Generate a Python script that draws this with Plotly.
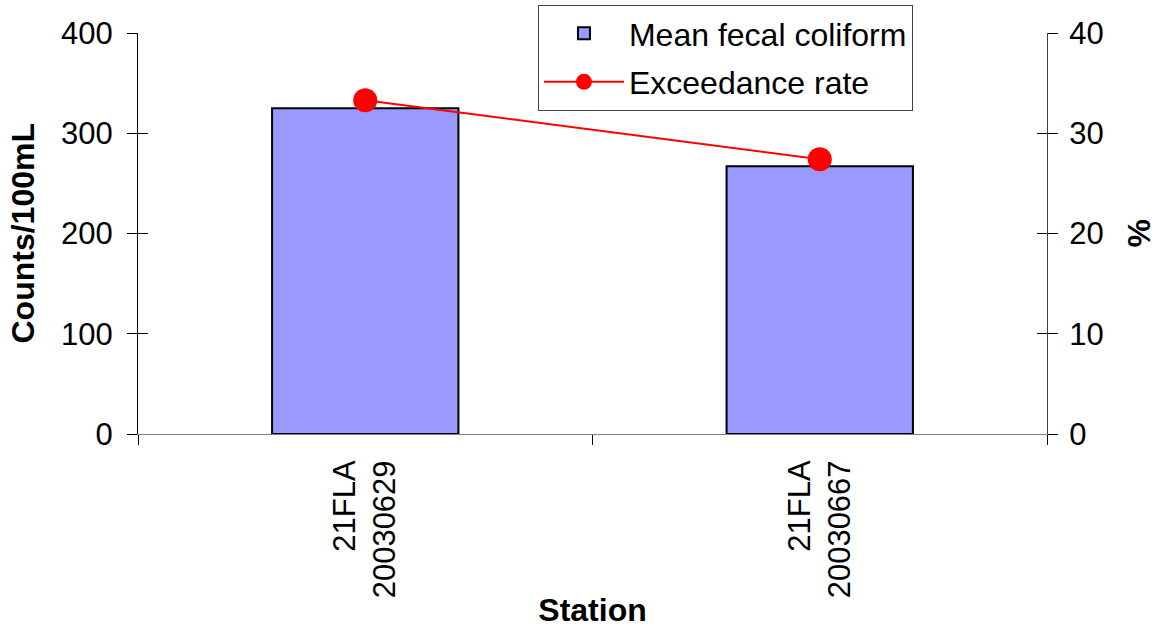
import plotly.graph_objects as go

stations = ["21FLA<br>20030629", "21FLA<br>20030667"]
mean_fecal = [325, 267]
exceedance = [33.3, 27.4]
y_ticks = [0, 100, 200, 300, 400]
y2_ticks = [0, 10, 20, 30, 40]

FONT = "Liberation Sans, Arial, sans-serif"

fig = go.Figure()
fig.add_trace(go.Bar(
    x=stations, y=mean_fecal, name="Mean fecal coliform",
    marker=dict(color="#9999FF", line=dict(color="black", width=2)),
    width=0.41, yaxis="y", legendgroup="a",
))
fig.add_trace(go.Scatter(
    x=stations, y=exceedance, name="Exceedance rate", mode="lines+markers",
    line=dict(color="#FF0000", width=2),
    marker=dict(color="#FF0000", size=24),
    yaxis="y2", legendgroup="b",
))
# helper traces so the inside-tick overlay axes are drawn
fig.add_trace(go.Scatter(x=stations, y=[None, None], yaxis="y3", showlegend=False, hoverinfo="skip"))
fig.add_trace(go.Scatter(x=stations, y=[None, None], yaxis="y4", showlegend=False, hoverinfo="skip"))

fig.update_layout(
    width=1161, height=628,
    margin=dict(l=138, r=114, t=33, b=194, autoexpand=False),
    paper_bgcolor="white", plot_bgcolor="white",
    font=dict(family=FONT, size=31, color="black"),
    showlegend=True,
    legend=dict(
        x=0.44, xanchor="left", y=1.07, yanchor="top",
        bgcolor="white", bordercolor="#444444", borderwidth=1,
        font=dict(size=32), traceorder="grouped", tracegroupgap=4,
        itemwidth=80,
    ),
    bargap=0.59,
    xaxis=dict(
        type="category", range=[-0.5, 1.5],
        showline=True, linecolor="#808080", linewidth=1,
        ticks="outside", ticklen=10, tickcolor="black", tickson="boundaries",
        tickangle=-90, tickfont=dict(size=31), ticklabelstandoff=13,
        title=dict(text="<b>Station</b>", font=dict(size=32), standoff=14),
        showgrid=False, zeroline=False, automargin=False,
    ),
    yaxis=dict(
        range=[0, 400], tickvals=y_ticks,
        showline=True, linecolor="black", linewidth=1,
        ticks="outside", ticklen=10, tickcolor="black",
        tickfont=dict(size=31), ticklabelstandoff=8,
        showgrid=False, zeroline=False, automargin=False,
    ),
    yaxis2=dict(
        range=[0, 40], tickvals=y2_ticks, overlaying="y", side="right",
        showline=True, linecolor="#404040", linewidth=1,
        ticks="outside", ticklen=10, tickcolor="black",
        tickfont=dict(size=31), ticklabelstandoff=5,
        showgrid=False, zeroline=False, automargin=False,
    ),
    yaxis3=dict(
        range=[0, 400], tickvals=y_ticks, overlaying="y", side="left",
        ticks="inside", ticklen=10, tickcolor="black", showticklabels=False,
        showline=False, showgrid=False, zeroline=False,
    ),
    yaxis4=dict(
        range=[0, 40], tickvals=y2_ticks, overlaying="y", side="right",
        ticks="inside", ticklen=10, tickcolor="black", showticklabels=False,
        showline=False, showgrid=False, zeroline=False,
    ),
    annotations=[
        dict(text="<b>Counts/100mL</b>", textangle=-90, xref="paper", yref="paper",
             x=0, y=0.5, xshift=-116, xanchor="center", yanchor="middle",
             showarrow=False, font=dict(size=32)),
        dict(text="<b>%</b>", textangle=-90, xref="paper", yref="paper",
             x=1, y=0.5, xshift=91, xanchor="center", yanchor="middle",
             showarrow=False, font=dict(size=32)),
    ],
)

fig.write_html("out.html", config={"displayModeBar": False},
               post_script="document.body.style.margin='0';")
